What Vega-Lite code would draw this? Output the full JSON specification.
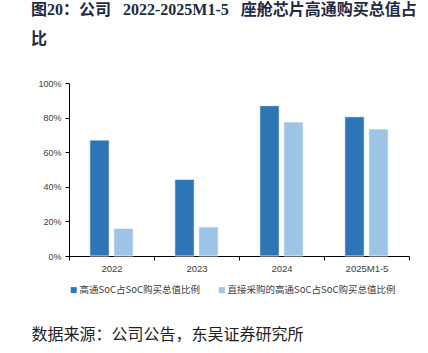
{
  "$schema": "https://vega.github.io/schema/vega-lite/v6.json",
  "width": 340,
  "height": 173,
  "autosize": "none",
  "padding": {"left": 69, "top": 83, "right": 19, "bottom": 97},
  "background": "white",
  "title": {
    "text": ["图20：公司\u2002 2022-2025M1-5\u2002 座舱芯片高通购买总值占", "比"],
    "anchor": "start",
    "frame": "group",
    "dx": -38,
    "dy": -2,
    "font": "Liberation Serif, Noto Sans CJK SC",
    "fontSize": 16,
    "fontWeight": "bold",
    "color": "#1f2a44",
    "lineHeight": 29,
    "offset": 30
  },
  "data": {
    "values": [
      {"year": "2022", "series": "高通SoC占SoC购买总值比例", "value": 0.67},
      {"year": "2022", "series": "直接采购的高通SoC占SoC购买总值比例", "value": 0.16},
      {"year": "2023", "series": "高通SoC占SoC购买总值比例", "value": 0.443},
      {"year": "2023", "series": "直接采购的高通SoC占SoC购买总值比例", "value": 0.168},
      {"year": "2024", "series": "高通SoC占SoC购买总值比例", "value": 0.869},
      {"year": "2024", "series": "直接采购的高通SoC占SoC购买总值比例", "value": 0.775},
      {"year": "2025M1-5", "series": "高通SoC占SoC购买总值比例", "value": 0.805},
      {"year": "2025M1-5", "series": "直接采购的高通SoC占SoC购买总值比例", "value": 0.734}
    ]
  },
  "mark": {"type": "bar", "stroke": "white", "strokeWidth": 0.8},
  "encoding": {
    "x": {
      "field": "year",
      "type": "nominal",
      "sort": null,
      "scale": {"paddingInner": 0, "paddingOuter": 0},
      "axis": {
        "title": "数据来源：公司公告，东吴证券研究所",
        "titleX": -38,
        "titleY": 78,
        "titleAlign": "left",
        "titleAnchor": null,
        "titleBaseline": "middle",
        "titleFont": "Noto Sans CJK SC",
        "titleFontSize": 16,
        "titleFontWeight": "normal",
        "titleColor": "#222222",
        "labelAngle": 0,
        "tickBand": "extent",
        "tickSize": 4,
        "tickColor": "#000000",
        "domainColor": "#000000",
        "labelFont": "Liberation Sans",
        "labelFontSize": 9.5,
        "labelColor": "#404040",
        "labelPadding": 3
      }
    },
    "xOffset": {
      "field": "series",
      "sort": null,
      "scale": {"paddingInner": 0.19, "paddingOuter": 0.866}
    },
    "y": {
      "field": "value",
      "type": "quantitative",
      "scale": {"domain": [0, 1], "nice": false},
      "axis": {
        "title": null,
        "format": ".0%",
        "values": [0, 0.2, 0.4, 0.6, 0.8, 1],
        "grid": false,
        "tickSize": 4,
        "tickColor": "#000000",
        "domainColor": "#000000",
        "labelFont": "Liberation Sans",
        "labelFontSize": 9,
        "labelColor": "#404040",
        "labelPadding": 4
      }
    },
    "color": {
      "field": "series",
      "type": "nominal",
      "sort": null,
      "scale": {
        "domain": ["高通SoC占SoC购买总值比例", "直接采购的高通SoC占SoC购买总值比例"],
        "range": ["#2E75B6", "#9DC3E6"]
      },
      "legend": {
        "title": null,
        "orient": "none",
        "legendX": 0,
        "legendY": 202,
        "direction": "horizontal",
        "columns": 2,
        "columnPadding": 17,
        "padding": 0,
        "symbolType": "square",
        "symbolSize": 36,
        "symbolStrokeWidth": 0,
        "labelOffset": 1,
        "labelFont": "Noto Sans CJK SC",
        "labelFontSize": 9.5,
        "labelColor": "#404040",
        "labelLimit": 300
      }
    }
  },
  "config": {
    "view": {"stroke": null},
    "axis": {"domainWidth": 1, "tickWidth": 1}
  }
}
